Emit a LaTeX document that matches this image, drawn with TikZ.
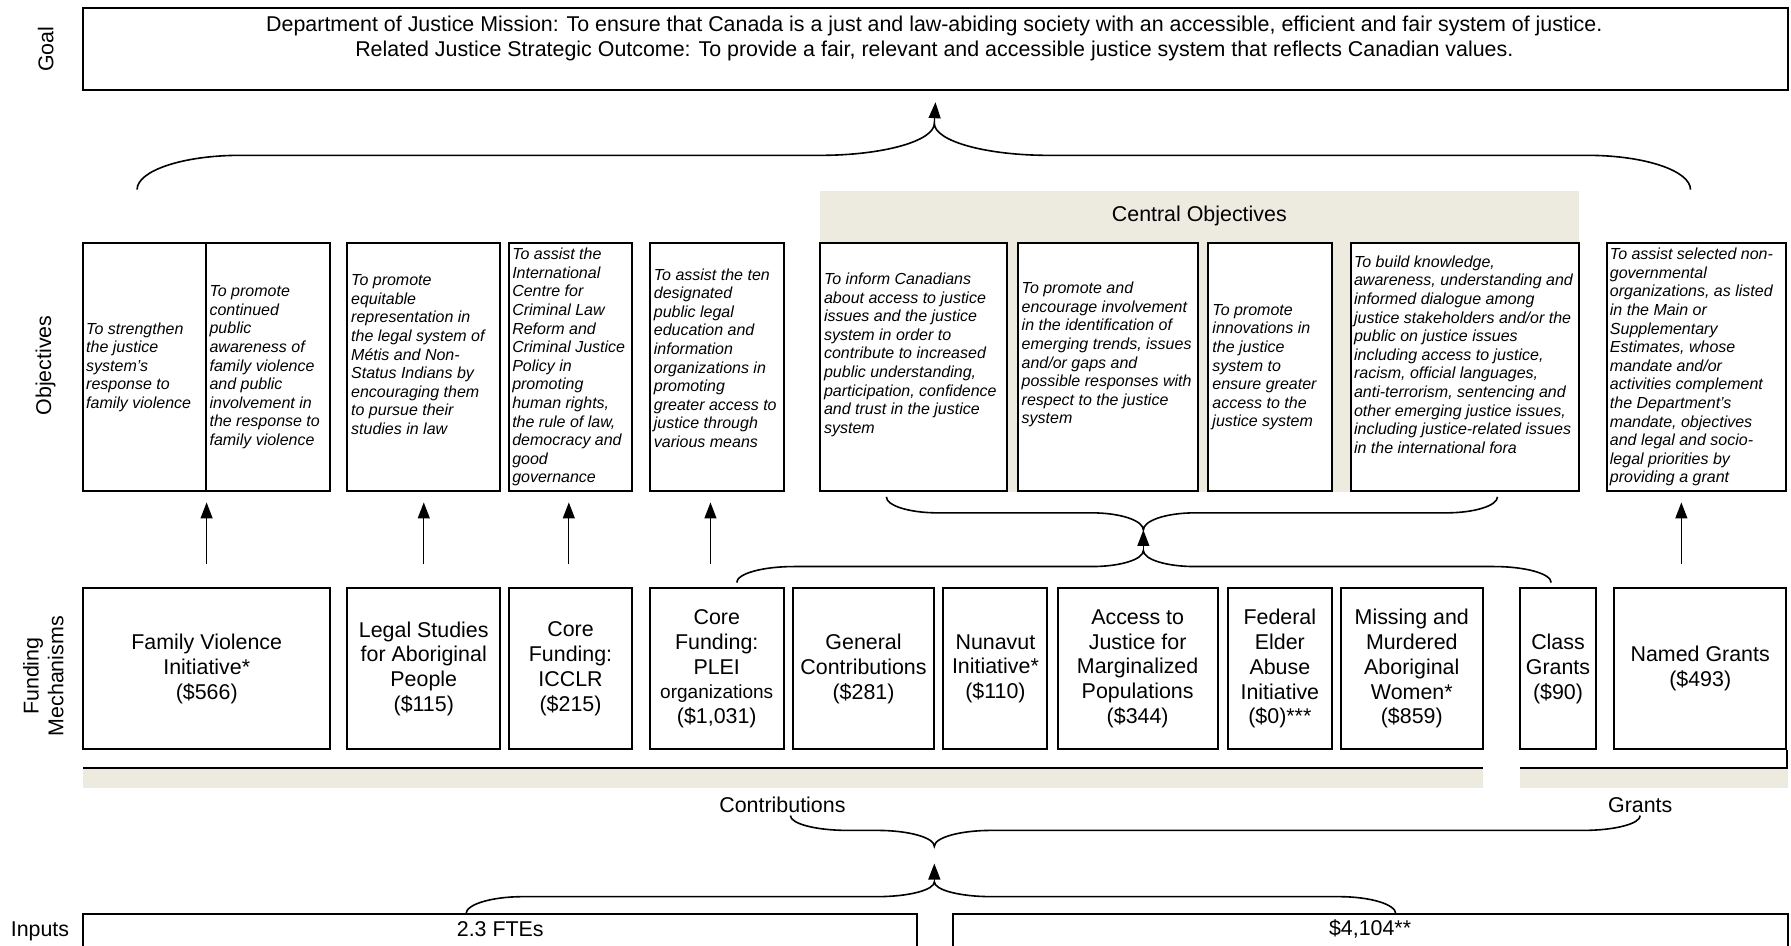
\documentclass[tikz,border=0pt]{standalone}
\usepackage{fontspec}
\setmainfont{Liberation Sans}
\usetikzlibrary{arrows.meta,calc}
\definecolor{beige}{RGB}{237,234,224}
\newcommand\fundfont{\fontsize{10.7}{12.4}\selectfont}
% box with exact corners (in reference px)
\newcommand\rbox[6]{%
  \pgfmathsetmacro\rbW{(#4-#2)*0.5711}%
  \pgfmathsetmacro\rbH{(#5-#3)*0.5711}%
  \node[frame, minimum width=\rbW pt, minimum height=\rbH pt] (#1) at ({(#2+#4)/2},{(#3+#5)/2}) {#6};%
}
% curly brace: xL, xC, xR, yEnd, yH, yCusp, rEnd, rCusp
\newcommand\drawbrace[8]{%
  \draw[bracestyle] (#1,#4) .. controls (#1,{#4+0.552*(#5-#4)}) and ({#1+0.448*#7},#5) .. ({#1+#7},#5)
    -- ({#2-#8},#5) .. controls ({#2-0.448*#8},#5) and (#2,{#6+0.552*(#5-#6)}) .. (#2,#6)
    .. controls (#2,{#6+0.552*(#5-#6)}) and ({#2+0.448*#8},#5) .. ({#2+#8},#5)
    -- ({#3-#7},#5) .. controls ({#3-0.448*#7},#5) and (#3,{#4+0.552*(#5-#4)}) .. (#3,#4);%
}
\begin{document}
\begin{tikzpicture}[x=0.5711pt,y=-0.5711pt,
  frame/.style={draw, line width=1pt, fill=white, inner sep=0pt, align=center, font=\fundfont},
  objt/.style={align=left, inner sep=0pt, anchor=west, font=\fontsize{8}{9.3}\selectfont\itshape},
  lab/.style={font=\fundfont, inner sep=0pt, align=center},
  arr/.style={-{Triangle[length=8pt,width=6pt]}, line width=0.6pt},
  bracestyle/.style={line width=0.8pt}]
\useasboundingbox (0,0) rectangle (1568,828);

% row labels
\node[lab, rotate=90] (lgoal) at (40,43) {Goal};
\node[lab, rotate=90] (lobj) at (40,320) {Objectives};
\node[lab, rotate=90] (lfund) at (38,592) {Funding\\Mechanisms};
\node[lab] (linp) at (35,815) {Inputs};

% goal
\rbox{goal}{73}{7}{1565}{79}{}
\node[lab] (goalt) at (818,34) {Department of Justice Mission: To ensure that Canada is a just and law-abiding society with an accessible, efficient and fair system of justice.\\Related Justice Strategic Outcome: To provide a fair, relevant and accessible justice system that reflects Canadian values.};

% central objectives band
\fill[beige] (718,167) rectangle (1382,431);
\node[lab] (central) at (1050,189) {Central Objectives};

% objective boxes
\rbox{o1a}{73}{213}{180}{430}{}
\rbox{o1b}{180}{213}{289}{430}{}
\rbox{o2}{304}{213}{438}{430}{}
\rbox{o3}{446}{213}{553}{430}{}
\rbox{o4}{569}{213}{686}{430}{}
\rbox{o5}{718}{213}{882}{430}{}
\rbox{o6}{891}{213}{1049}{430}{}
\rbox{o7}{1058}{213}{1166}{430}{}
\rbox{o8}{1183}{213}{1382}{430}{}
\rbox{o9}{1407}{213}{1564}{430}{}

\node[objt] (o1at) at ($(o1a.west)+(3,0)$) {To strengthen\\the justice\\system’s\\response to\\family violence};
\node[objt] (o1bt) at ($(o1b.west)+(4,0)$) {To promote\\continued\\public\\awareness of\\family violence\\and public\\involvement in\\the response to\\family violence};
\node[objt] (o2t) at ($(o2.west)+(4,-11)$) {To promote\\equitable\\representation in\\the legal system of\\Métis and Non-\\Status Indians by\\encouraging them\\to pursue their\\studies in law};
\node[objt] (o3t) at ($(o3.west)+(3,0)$) {To assist the\\International\\Centre for\\Criminal Law\\Reform and\\Criminal Justice\\Policy in\\promoting\\human rights,\\the rule of law,\\democracy and\\good\\governance};
\node[objt] (o4t) at ($(o4.west)+(4,-8)$) {To assist the ten\\designated\\public legal\\education and\\information\\organizations in\\promoting\\greater access to\\justice through\\various means};
\node[objt] (o5t) at ($(o5.west)+(4,-11)$) {To inform Canadians\\about access to justice\\issues and the justice\\system in order to\\contribute to increased\\public understanding,\\participation, confidence\\and trust in the justice\\system};
\node[objt] (o6t) at ($(o6.west)+(4,-11)$) {To promote and\\encourage involvement\\in the identification of\\emerging trends, issues\\and/or gaps and\\possible responses with\\respect to the justice\\system};
\node[objt] (o7t) at ($(o7.west)+(4,0)$) {To promote\\innovations in\\the justice\\system to\\ensure greater\\access to the\\justice system};
\node[objt] (o8t) at ($(o8.west)+(3,-11)$) {To build knowledge,\\awareness, understanding and\\informed dialogue among\\justice stakeholders and/or the\\public on justice issues\\including access to justice,\\racism, official languages,\\anti-terrorism, sentencing and\\other emerging justice issues,\\including justice-related issues\\in the international fora};
\node[objt] (o9t) at ($(o9.west)+(3,0)$) {To assist selected non-\\governmental\\organizations, as listed\\in the Main or\\Supplementary\\Estimates, whose\\mandate and/or\\activities complement\\the Department’s\\mandate, objectives\\and legal and socio-\\legal priorities by\\providing a grant};

% funding mechanism boxes
\rbox{f1}{73}{515}{289}{656}{Family Violence\\Initiative*\\(\$566)}
\rbox{f2}{304}{515}{438}{656}{Legal Studies\\for Aboriginal\\People\\(\$115)}
\rbox{f3}{446}{515}{553}{656}{Core\\Funding:\\ICCLR\\(\$215)}
\rbox{f4}{569}{515}{686}{656}{Core\\Funding:\\PLEI\\{\fontsize{9.5}{11}\selectfont organizations}\\(\$1,031)}
\rbox{f5}{694}{515}{818}{656}{General\\Contributions\\(\$281)}
\rbox{f6}{826}{515}{917}{656}{Nunavut\\Initiative*\\(\$110)}
\rbox{f7}{926}{515}{1066}{656}{Access to\\Justice for\\Marginalized\\Populations\\(\$344)}
\rbox{f8}{1075}{515}{1166}{656}{Federal\\Elder\\Abuse\\Initiative\\(\$0)***}
\rbox{f9}{1174}{515}{1298}{656}{Missing and\\Murdered\\Aboriginal\\Women*\\(\$859)}
\rbox{f10}{1331}{515}{1397}{656}{Class\\Grants\\(\$90)}
\rbox{f11}{1413}{515}{1564}{656}{Named Grants\\(\$493)}

% funding -> objective arrows
\draw[arr] ($(o1a.south east |- f1.north)+(0,-20)$) -- ($(o1a.south east)+(0,9)$);
\draw[arr] ($(f2.north)+(0,-20)$) -- ($(o2.south)+(0,9)$);
\draw[arr] ($(f3.north)+(-1.5,-20)$) -- ($(o3.south)+(-1.5,9)$);
\draw[arr] ($(f4.north)+(-5.5,-20)$) -- ($(o4.south)+(-5.5,9)$);
\draw[arr] ($(f11.north)+(-16.5,-20)$) -- ($(o9.south)+(-13.5,9)$);

% top brace to goal
\drawbrace{120}{818}{1480}{166}{136}{108}{90}{100}
\coordinate (cTop) at (818,108);
\draw[arr] (cTop) -- ($(goal.south)+(0,9.6)$);

% central objectives braces
\drawbrace{776}{1001}{1311}{435}{449}{464}{45}{45}
\coordinate (cObj) at (1001,464);
\drawbrace{645}{1001}{1358}{510}{496}{482}{50}{45}
\coordinate (cFund) at (1001,482);
\draw[arr] (cFund) -- (cObj);

% contribution / grant bands
\fill[beige] (73,672) rectangle (1298,690);
\draw[line width=1pt] (73,672) -- (1298,672);
\fill[beige] (1331,672) rectangle (1565,690);
\draw[line width=1pt] (1331,672) -- (1565,672);
\draw[line width=1pt] (f11.south east) -- ++(0,16);
\node[lab] (contr) at (685,705) {Contributions};
\node[lab] (grants) at (1436,705) {Grants};

% bottom braces
\drawbrace{692}{818}{1436}{714}{727}{741}{50}{50}
\coordinate (cCG) at (818,741);
\drawbrace{408}{818}{1222}{800}{785}{772}{50}{50}
\coordinate (cIn) at (818,772);
\draw[arr] (cIn) -- ($(cCG)+(0,15)$);

% inputs
\rbox{in1}{73}{800}{803}{845}{}
\rbox{in2}{834}{800}{1565}{845}{}
\node[lab] (in1t) at ($(in1.north)+(0,14)$) {2.3 FTEs};
\node[lab] (in2t) at ($(in2.north)+(0,14)$) {\$4,104**};
\end{tikzpicture}
\end{document}
